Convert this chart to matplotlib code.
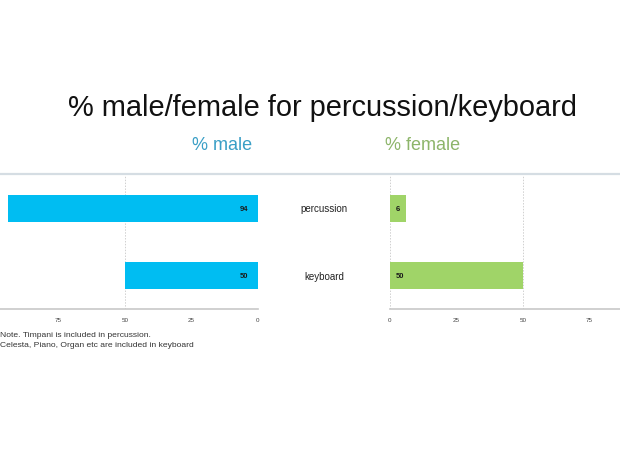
import matplotlib.pyplot as plt

categories = ["percussion", "keyboard"]
male = [94, 50]
female = [6, 50]
ticks = [0, 25, 50, 75]

plt.rcParams['font.family'] = ['Liberation Sans', 'DejaVu Sans']

fig = plt.figure(figsize=(6.2, 4.6), dpi=100)
W, H = 620.0, 460.0

def box(x0, x1, y0, y1):
    return [x0 / W, 1 - y1 / H, (x1 - x0) / W, (y1 - y0) / H]

axL = fig.add_axes(box(0, 258, 176, 310))
axM = fig.add_axes(box(258, 390, 176, 310))
axR = fig.add_axes(box(390, 620, 176, 310))

ypos = [0, 1]
male_col = '#00bdf2'
female_col = '#a0d468'

for ax in (axL, axR):
    ax.set_ylim(1.5, -0.5)
    for s in ('left', 'right', 'top'):
        ax.spines[s].set_visible(False)
    ax.spines['bottom'].set_color('#c8c8c8')
    ax.spines['bottom'].set_linewidth(1.2)
    ax.set_yticks([])
    ax.set_xticks(ticks)
    ax.set_xticklabels([str(t) for t in ticks], fontsize=4.5, color='#444444')
    ax.tick_params(axis='x', length=0, pad=6)
    for g in (0, 50, 100):
        ax.axvline(g, color='#d0d0d0', lw=0.7, ls=(0, (1.5, 1.5)), zorder=0)

axL.set_xlim(97, 0)
axR.set_xlim(0, 86.5)

axL.barh(ypos, male, height=0.39, color=male_col, zorder=2)
axR.barh(ypos, female, height=0.39, color=female_col, zorder=2)

for y, v in zip(ypos, male):
    axL.text(3.5, y, str(v), ha='right', va='center', fontsize=5.5, fontweight='bold', color='#1a1a1a', zorder=3)
for y, v in zip(ypos, female):
    axR.text(2, y, str(v), ha='left', va='center', fontsize=5.5, fontweight='bold', color='#1a1a1a', zorder=3)

axM.set_xlim(0, 1)
axM.set_ylim(1.5, -0.5)
axM.axis('off')
for y, c in zip(ypos, categories):
    axM.text(0.5, y, c, ha='center', va='center', fontsize=7, color='#222222')

# top border line
fig.add_artist(plt.Line2D([0, 1], [1 - 175 / H, 1 - 175 / H], color='#d5dde3', lw=1.6))

fig.text(322 / W, 1 - 108 / H, "% male/female for percussion/keyboard", ha='center', va='center',
         fontsize=20.9, color='#111111')
fig.text(222 / W, 1 - 145 / H, "% male", ha='center', va='center', fontsize=13, color='#3a9fc6')
fig.text(423 / W, 1 - 145 / H, "% female", ha='center', va='center', fontsize=13, color='#8db56a')

fig.text(0.5 / W, 1 - 336 / H, "Note. Timpani is included in percussion.", ha='left', va='center',
         fontsize=6.1, color='#333333')
fig.text(0.5 / W, 1 - 346 / H, "Celesta, Piano, Organ etc are included in keyboard", ha='left', va='center',
         fontsize=6.1, color='#333333')

fig.savefig('out.png', dpi=100)
